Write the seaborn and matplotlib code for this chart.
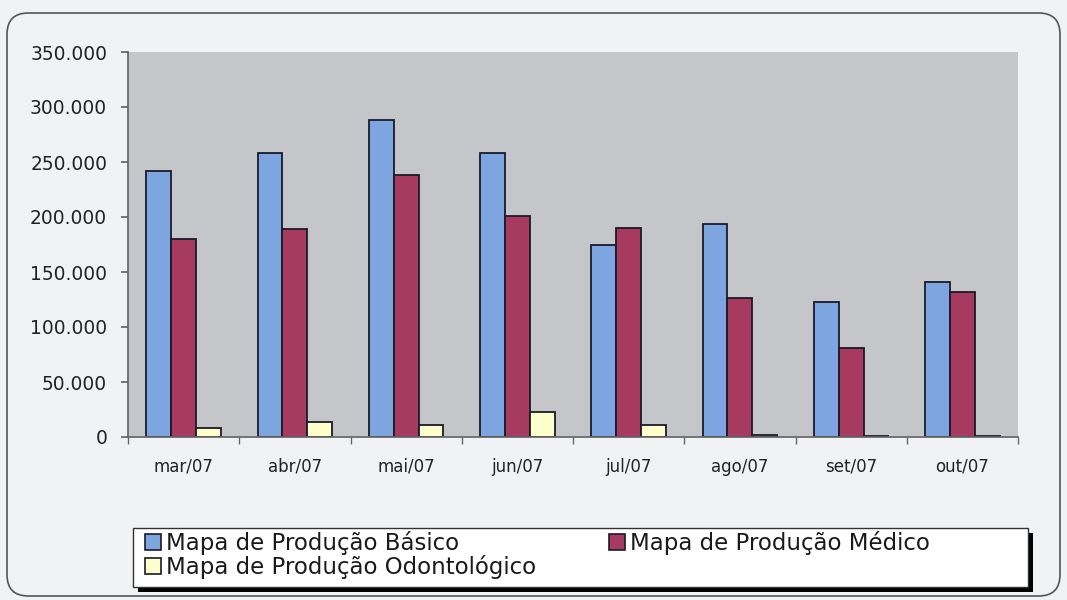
import pandas as pd
import seaborn as sns
import matplotlib.pyplot as plt
from matplotlib.patches import FancyBboxPatch, Rectangle
from matplotlib.ticker import FuncFormatter, MultipleLocator

meses = ["mar/07", "abr/07", "mai/07", "jun/07", "jul/07", "ago/07", "set/07", "out/07"]
series = ["Mapa de Produção Básico", "Mapa de Produção Médico", "Mapa de Produção Odontológico"]
basico = [242000, 258500, 288500, 258000, 175000, 194000, 123000, 141000]
medico = [180000, 189000, 238000, 201000, 190000, 126000, 81000, 132000]
odonto = [8000, 14000, 11000, 23000, 11000, 1500, 1200, 1200]

df = pd.DataFrame({
    "mes": meses * 3,
    "serie": [series[0]] * 8 + [series[1]] * 8 + [series[2]] * 8,
    "valor": basico + medico + odonto,
})

cores = ["#7DA6E0", "#A63A5F", "#FFFFCC"]

sns.set_theme(style="white")
plt.rcParams["font.family"] = ["DejaVu Sans"]

fig = plt.figure(figsize=(10.67, 6), dpi=100)
fig.patch.set_facecolor("#F1F2F4")

W, H = 1067, 600
# rounded outer frame
fig.patches.append(FancyBboxPatch((7 / W, 4 / H), 1053 / W, 583 / H,
                                  boxstyle="round,pad=0,rounding_size=0.02",
                                  mutation_aspect=W / H,
                                  transform=fig.transFigure, facecolor="none", edgecolor="#555555", lw=1.2))

ax = fig.add_axes([128 / W, 1 - 437 / H, 890 / W, 385 / H])
sns.barplot(data=df, x="mes", y="valor", hue="serie", palette=cores, saturation=1,
            edgecolor="#1a1a2a", linewidth=1.3, width=0.67, gap=0, ax=ax, legend=False)

ax.set_facecolor("#C4C6CA")
ax.set_ylim(0, 350000)
ax.set_xlim(-0.5, 7.5)
ax.yaxis.set_major_locator(MultipleLocator(50000))
ax.yaxis.set_major_formatter(FuncFormatter(lambda v, p: "0" if v == 0 else f"{int(v):,}".replace(",", ".")))
ax.set_xlabel("")
ax.set_ylabel("")
for s in ["top", "right"]:
    ax.spines[s].set_visible(False)
ax.spines["left"].set_color("#666666")
ax.spines["bottom"].set_color("#666666")
ax.tick_params(axis="y", labelsize=13.4, length=5, direction="out", left=True, color="#666666",
               labelcolor="#222222", pad=10)
ax.tick_params(axis="x", labelsize=12, length=0, pad=15, labelcolor="#222222")
# tick marks between categories
ax.set_xticks([i - 0.5 for i in range(9)], minor=True)
ax.tick_params(axis="x", which="minor", length=5, bottom=True, color="#666666")

# legend box with solid shadow
fig.patches.append(Rectangle((138 / W, 1 - 592 / H), 895 / W, 59 / H, transform=fig.transFigure,
                             facecolor="black", edgecolor="none"))
fig.patches.append(Rectangle((133 / W, 1 - 587 / H), 895 / W, 59 / H, transform=fig.transFigure,
                             facecolor="white", edgecolor="#333333", lw=1))

handles = [Rectangle((0, 0), 1, 1, facecolor=c, edgecolor="#1a1a2a", lw=1.2) for c in cores]
ordem = [0, 2, 1]
leg = fig.legend([handles[i] for i in ordem], [series[i] for i in ordem],
                 loc="upper left", bbox_to_anchor=(145 / W, 1 - 531 / H),
                 ncol=2, fontsize=16.5, frameon=False,
                 handlelength=0.7, handleheight=0.7, handletextpad=0.2, borderaxespad=0,
                 borderpad=0, labelspacing=0.0, columnspacing=3.2)
for t in leg.get_texts():
    t.set_color("#1a1a1a")

fig.savefig("out.png", dpi=100, facecolor=fig.get_facecolor())
